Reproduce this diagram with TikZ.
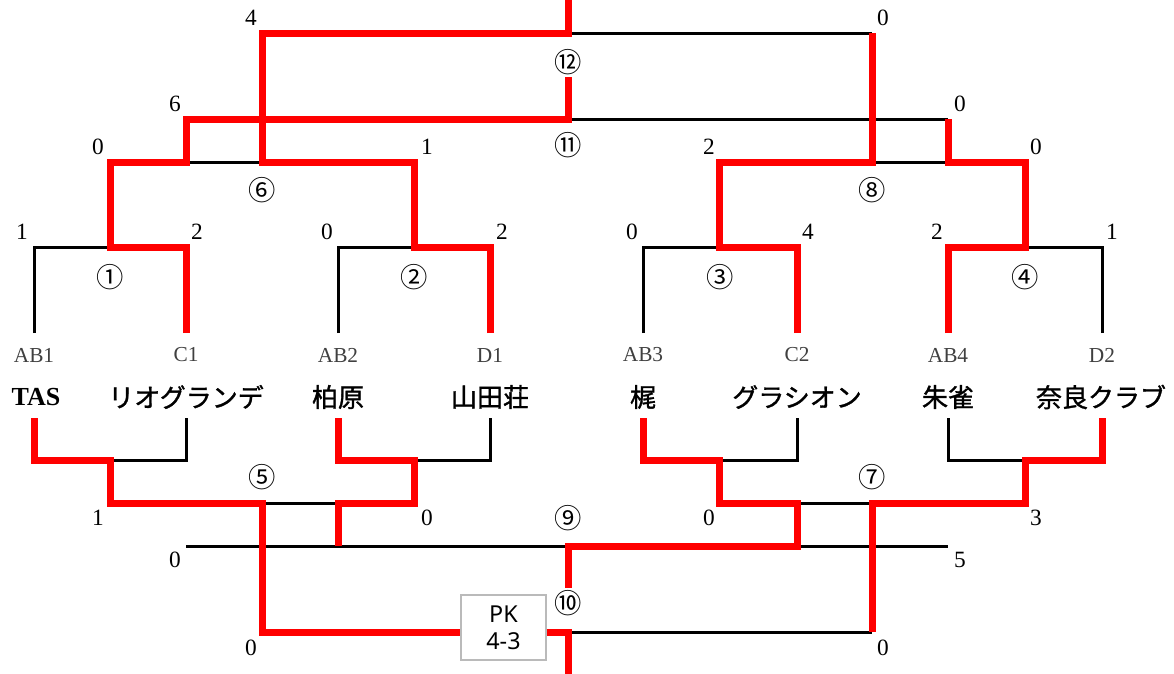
\documentclass[tikz,border=0pt]{standalone}
\usepackage{fontspec}
\setmainfont{Liberation Serif}
\newfontfamily\jpfont{Noto Sans CJK JP}
\newfontfamily\jpbold[FakeBold=1.2]{Noto Sans CJK JP}
\newfontfamily\pkfont{Noto Sans}
\begin{document}
\begin{tikzpicture}[x=0.75pt,y=-0.75pt,
  blk/.style={draw=black,line width=2.25pt},
  red/.style={draw=red,line width=5.25pt},
  score/.style={inner sep=0pt,font=\fontsize{17.5}{19}\selectfont},
  code/.style={inner sep=0pt,text=black!75,font=\fontsize{16}{18}\selectfont},
  team/.style={inner sep=0pt,font=\jpbold\fontsize{19.5}{22}\selectfont},
  circ/.style={inner sep=0pt,font=\jpfont\fontsize{20.5}{22}\selectfont},
  pkbox/.style={draw=black!27,line width=1.1pt,fill=white,minimum width=63.75pt,minimum height=48.75pt,inner sep=0pt,align=center,font=\pkfont\fontsize{17.5}{20.5}\selectfont}]
\useasboundingbox (0,0) rectangle (1174,674);
% ---------- upper bracket: black ----------
\draw[blk] (34,333) -- (34,247) -- (110,247);
\draw[blk] (338,333) -- (338,247) -- (414,247);
\draw[blk] (643,333) -- (643,247) -- (719,247);
\draw[blk] (1102,333) -- (1102,247) -- (1025,247);
\draw[blk] (186,162) -- (262,162);
\draw[blk] (872,162) -- (948,162);
\draw[blk] (568,119) -- (948,119);
\draw[blk] (568,34) -- (872,34);
% ---------- lower bracket: black ----------
\draw[blk] (186,418) -- (186,460) -- (110,460);
\draw[blk] (490,418) -- (490,460) -- (414,460);
\draw[blk] (797,418) -- (797,460) -- (719,460);
\draw[blk] (948,418) -- (948,460) -- (1025,460);
\draw[blk] (262,503) -- (338,503);
\draw[blk] (797,503) -- (872,503);
\draw[blk] (186,546) -- (568,546);
\draw[blk] (797,546) -- (948,546);
\draw[blk] (568,632) -- (872,632);
% ---------- upper bracket: red ----------
\draw[red] (186,333) -- (186,247) -- (110,247) -- (110,162) -- (186,162) -- (186,119) -- (568,119) -- (568,77);
\draw[red] (490,333) -- (490,247) -- (414,247) -- (414,162) -- (262,162) -- (262,34) -- (568,34) -- (568,0);
\draw[red] (797,333) -- (797,247) -- (719,247) -- (719,162) -- (872,162) -- (872,33);
\draw[red] (948,333) -- (948,247) -- (1025,247) -- (1025,162) -- (948,162) -- (948,119);
% ---------- lower bracket: red ----------
\node[pkbox] (pk) at (503.5,627.5) {PK\\4-3};
\draw[red] (34,418) -- (34,460) -- (110,460) -- (110,503) -- (262,503) -- (262,632) -- (pk.west |- 262,632);
\draw[red] (pk.east |- 568,632) -- (568,632) -- (568,674);
\draw[red] (338,418) -- (338,460) -- (414,460) -- (414,503) -- (338,503) -- (338,546);
\draw[red] (643,418) -- (643,460) -- (719,460) -- (719,503) -- (797,503) -- (797,546) -- (568,546) -- (568,588);
\draw[red] (1102,418) -- (1102,460) -- (1025,460) -- (1025,503) -- (872,503) -- (872,632);
% ---------- codes and teams ----------
\node[code] (c1) at (34,355) {AB1};
\node[code] (c2) at (186,355) {C1};
\node[code] (c3) at (338,355) {AB2};
\node[code] (c4) at (490,355) {D1};
\node[code] (c5) at (643,355) {AB3};
\node[code] (c6) at (797,355) {C2};
\node[code] (c7) at (948,355) {AB4};
\node[code] (c8) at (1102,355) {D2};
\node[team,font=\bfseries\fontsize{19.5}{22}\selectfont] (t1) at (36,397) {TAS};
\node[team] (t2) at (186,397) {リオグランデ};
\node[team] (t3) at (338,397) {柏原};
\node[team] (t4) at (490,397) {山田荘};
\node[team] (t5) at (643,397) {梶};
\node[team] (t6) at (797,397) {グラシオン};
\node[team] (t7) at (948,397) {朱雀};
\node[team] (t8) at (1101,397) {奈良クラブ};
% ---------- match numbers ----------
\node[circ] (m1) at (110,277) {①};
\node[circ] (m2) at (414,277) {②};
\node[circ] (m3) at (720,277) {③};
\node[circ] (m4) at (1025,277) {④};
\node[circ] (m5) at (262,477) {⑤};
\node[circ] (m6) at (262,190) {⑥};
\node[circ] (m7) at (872,477) {⑦};
\node[circ] (m8) at (872,190) {⑧};
\node[circ] (m9) at (568,518) {⑨};
\node[circ] (m10) at (568,603) {⑩};
\node[circ] (m11) at (568,145) {⑪};
\node[circ] (m12) at (568,62) {⑫};
% ---------- scores upper ----------
\node[score] (s1) at (22,232) {1};
\node[score] (s2) at (197,232) {2};
\node[score] (s3) at (327,232) {0};
\node[score] (s4) at (502,232) {2};
\node[score] (s5) at (632,232) {0};
\node[score] (s6) at (808,232) {4};
\node[score] (s7) at (937,232) {2};
\node[score] (s8) at (1112,232) {1};
\node[score] (s9) at (98,147) {0};
\node[score] (s10) at (427,147) {1};
\node[score] (s11) at (709,147) {2};
\node[score] (s12) at (1036,147) {0};
\node[score] (s13) at (175,104) {6};
\node[score] (s14) at (960,104) {0};
\node[score] (s15) at (251,18) {4};
\node[score] (s16) at (883,18) {0};
% ---------- scores lower ----------
\node[score] (s17) at (98,518) {1};
\node[score] (s18) at (427,518) {0};
\node[score] (s19) at (709,518) {0};
\node[score] (s20) at (1036,518) {3};
\node[score] (s21) at (175,560) {0};
\node[score] (s22) at (960,560) {5};
\node[score] (s23) at (251,648) {0};
\node[score] (s24) at (883,648) {0};
\end{tikzpicture}
\end{document}
